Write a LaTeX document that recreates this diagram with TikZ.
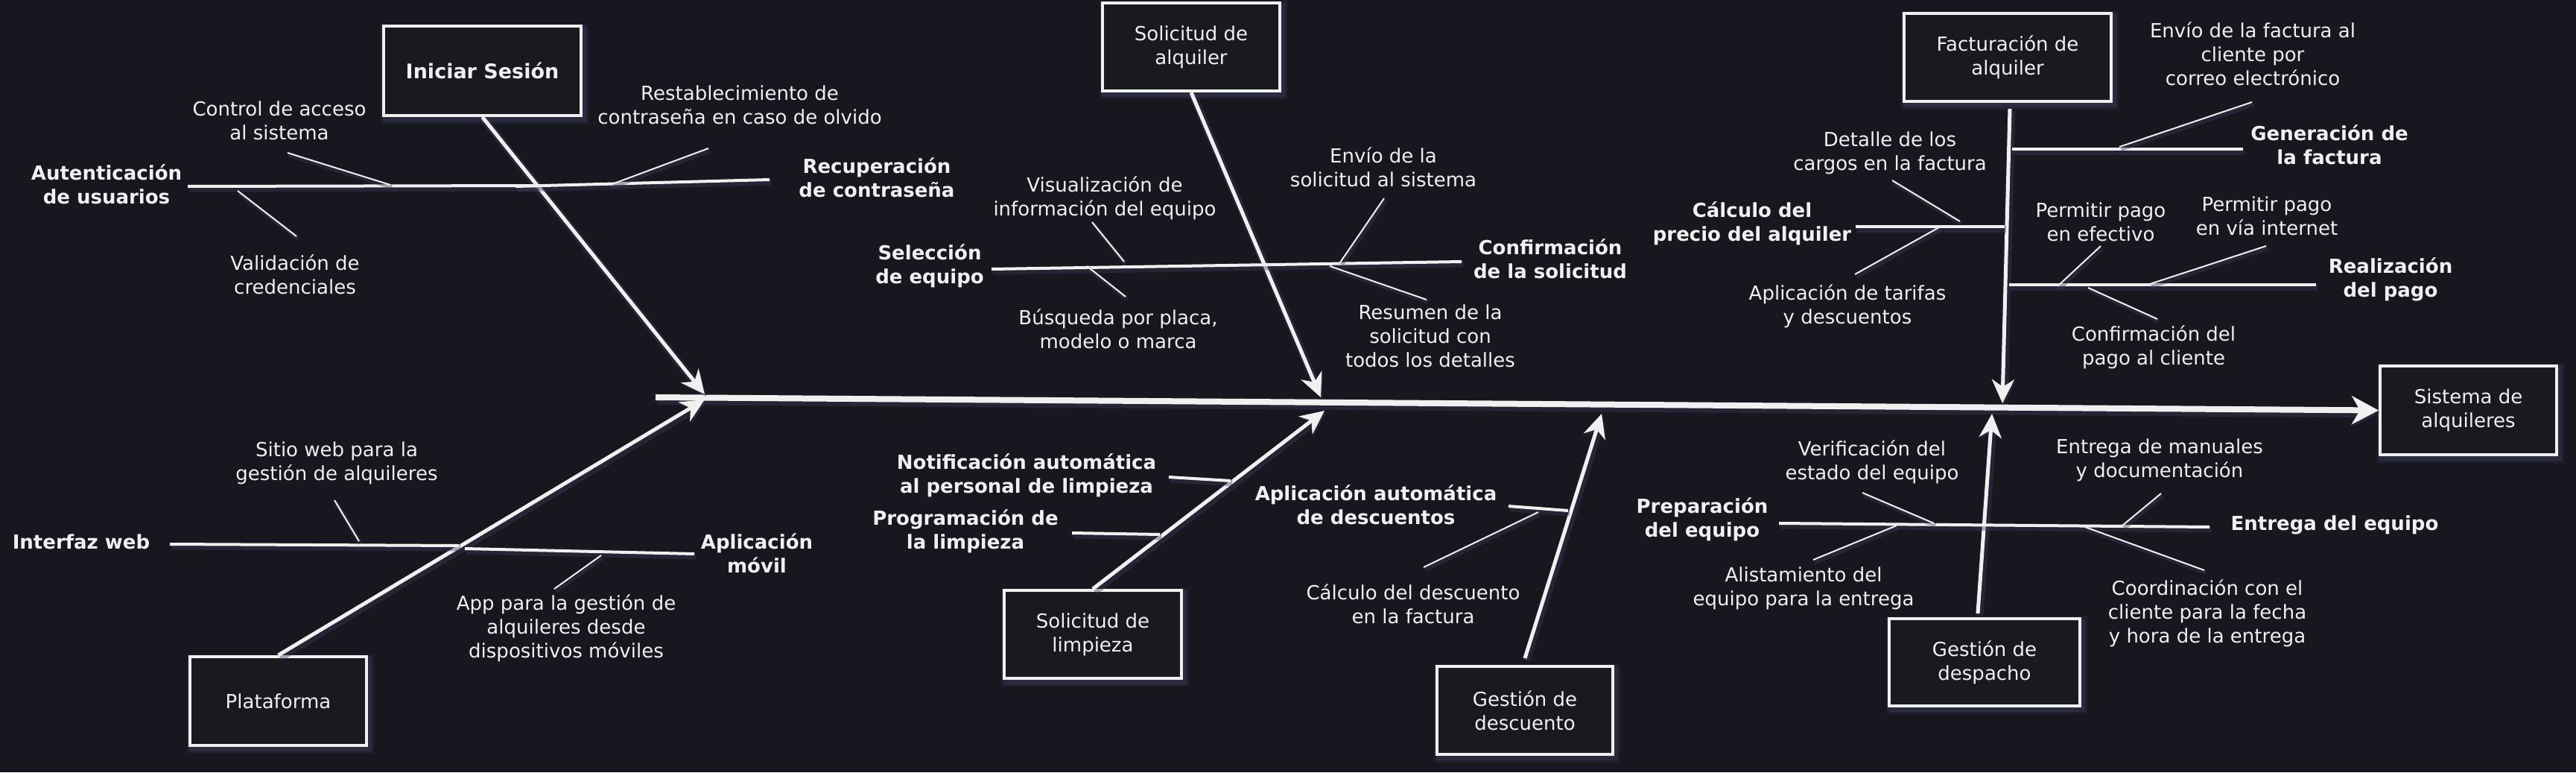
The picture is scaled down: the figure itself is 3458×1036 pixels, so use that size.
\documentclass[tikz,border=0pt]{standalone}
\usepackage{fontspec}
\setmainfont{DejaVu Sans}
\usetikzlibrary{arrows.meta}
\definecolor{bg}{HTML}{18171F}
\definecolor{boxbg}{HTML}{1A1920}
\definecolor{fg}{HTML}{F0F0F0}
\definecolor{glowc}{HTML}{3A3A58}
\tikzset{
  txt/.style={text=fg, align=center, inner sep=0pt, font=\fontsize{26}{32}\selectfont},
  btxt/.style={txt, font=\fontsize{26}{32}\selectfont\bfseries},
  boxglow/.style={preaction={draw=glowc, line width=14pt, draw opacity=0.25, transform canvas={shift={(3pt,-4pt)}}},
                  preaction={draw=glowc, line width=8pt, draw opacity=0.45, transform canvas={shift={(3pt,-4pt)}}}},
  box/.style={boxglow, draw=fg, line width=4pt, fill=boxbg, text=fg, align=center, inner sep=0pt, font=\fontsize{26}{32}\selectfont},
  lineglow/.style={preaction={draw=glowc, line width=#1, draw opacity=0.4, transform canvas={shift={(2pt,-3pt)}}}},
  spineline/.style={lineglow=14pt, draw=fg, line width=8pt, -{Stealth[length=36pt,width=38pt,inset=11pt]}},
  mainarrow/.style={lineglow=11pt, draw=fg, line width=5pt, -{Stealth[length=32pt,width=30pt,inset=10pt]}},
  branch/.style={lineglow=9pt, draw=fg, line width=4pt},
  leader/.style={lineglow=6pt, draw=fg, line width=2pt}
}
\begin{document}
\begin{tikzpicture}[x=1pt,y=-1pt]
\fill[bg] (0,0) rectangle (3458,1036);
\useasboundingbox (0,0) rectangle (3458,1036);

% category boxes
\node[box, minimum width=265pt, minimum height=120pt, font=\fontsize{27}{32}\selectfont\bfseries] (is) at (647.5,95) {Iniciar Sesión};
\node[box, minimum width=238pt, minimum height=118pt] (sa) at (1599,63) {Solicitud de\\alquiler};
\node[box, minimum width=278pt, minimum height=118pt] (fa) at (2695,77) {Facturación de\\alquiler};
\node[box, minimum width=237pt, minimum height=119pt] (sis) at (3313.5,550.5) {Sistema de\\alquileres};
\node[box, minimum width=237pt, minimum height=119pt] (pl) at (373.5,940.5) {Plataforma};
\node[box, minimum width=238pt, minimum height=118pt] (sl) at (1467,851) {Solicitud de\\limpieza};
\node[box, minimum width=236pt, minimum height=118pt] (gd) at (2047,953) {Gestión de\\descuento};
\node[box, minimum width=256pt, minimum height=117pt] (gp) at (2664,888.5) {Gestión de\\despacho};

% spine
\coordinate (sp0) at (880,533);
\draw[spineline] (sp0) -- (sis.west);

% main arrows
\coordinate (t1) at (946,529);
\coordinate (t2) at (1773,533);
\coordinate (t3) at (2688,541);
\coordinate (t4) at (946,536);
\coordinate (t5) at (1778,551);
\coordinate (t6) at (2150,555);
\coordinate (t7) at (2674,555);
\draw[mainarrow] (is.south) -- (t1);
\draw[mainarrow] (sa.south) -- (t2);
\draw[mainarrow] ([xshift=3pt,yshift=-8pt]fa.south) -- (t3);
\draw[mainarrow] (pl.north) -- (t4);
\draw[mainarrow] (sl.north) -- (t5);
\draw[mainarrow] ([yshift=9pt]gd.north) -- (t6);
\draw[mainarrow] ([xshift=-9pt,yshift=5pt]gp.north) -- (t7);

% ---- Iniciar Sesion group
\node[btxt] (aut) at (143,247) {Autenticación\\de usuarios};
\node[btxt] (rec) at (1177,238) {Recuperación\\de contraseña};
\node[txt] (ctl) at (375,162) {Control de acceso\\al sistema};
\node[txt] (val) at (396,368) {Validación de\\credenciales};
\node[txt] (res) at (993,141) {Restablecimiento de\\contraseña en caso de olvido};
\coordinate (autA) at (252,250); \coordinate (autB) at (722,249);
\coordinate (recA) at (692,250); \coordinate (recB) at (1033,241);
\draw[branch] (autA) -- (autB);
\draw[branch] (recA) -- (recB);
\coordinate (ctlA) at (386,205); \coordinate (ctlB) at (524,248);
\coordinate (valA) at (319,256); \coordinate (valB) at (398,317);
\coordinate (resA) at (951,199); \coordinate (resB) at (819,248);
\draw[leader] (ctlA) -- (ctlB);
\draw[leader] (valA) -- (valB);
\draw[leader] (resA) -- (resB);

% ---- Solicitud de alquiler group
\node[btxt] (sel) at (1248,357) {Selección\\de equipo};
\node[btxt] (conf) at (2081,347) {Confirmación\\de la solicitud};
\node[txt] (vis) at (1483,266) {Visualización de\\información del equipo};
\node[txt] (bus) at (1501,441) {Búsqueda por placa,\\modelo o marca};
\node[txt] (env) at (1857,224) {Envío de la\\solicitud al sistema};
\node[txt] (resu) at (1920,451) {Resumen de la\\solicitud con\\todos los detalles};
\coordinate (selA) at (1331,361); \coordinate (selB) at (1962,351);
\draw[branch] (selA) -- (selB);
\coordinate (visA) at (1466,298); \coordinate (visB) at (1509,351);
\coordinate (busA) at (1511,398); \coordinate (busB) at (1459,357);
\coordinate (envA) at (1858,266); \coordinate (envB) at (1799,352);
\coordinate (resuA) at (1915,402); \coordinate (resuB) at (1785,357);
\draw[leader] (visA) -- (visB);
\draw[leader] (busA) -- (busB);
\draw[leader] (envA) -- (envB);
\draw[leader] (resuA) -- (resuB);

% ---- Facturacion group
\node[btxt] (gen) at (3127,194) {Generación de\\la factura};
\node[txt] (envf) at (3024,72) {Envío de la factura al\\cliente por\\correo electrónico};
\node[btxt] (calc) at (2352,300) {Cálculo del\\precio del alquiler};
\node[txt] (det) at (2537,205) {Detalle de los\\cargos en la factura};
\node[txt] (tar) at (2480,411) {Aplicación de tarifas\\y descuentos};
\node[btxt] (real) at (3209,375) {Realización\\del pago};
\node[txt] (efe) at (2820,298) {Permitir pago\\en efectivo};
\node[txt] (inet) at (3043,290) {Permitir pago\\en vía internet};
\node[txt] (cpag) at (2891,466) {Confirmación del\\pago al cliente};
\coordinate (genA) at (2701,200); \coordinate (genB) at (3011,200);
\coordinate (calcA) at (2491,304); \coordinate (calcB) at (2691,304);
\coordinate (realA) at (2697,382); \coordinate (realB) at (3109,382);
\draw[branch] (genA) -- (genB);
\draw[branch] (calcA) -- (calcB);
\draw[branch] (realA) -- (realB);
\coordinate (envfA) at (3023,137); \coordinate (envfB) at (2845,197);
\coordinate (detA) at (2540,242); \coordinate (detB) at (2631,297);
\coordinate (tarA) at (2490,368); \coordinate (tarB) at (2603,305);
\coordinate (efeA) at (2820,330); \coordinate (efeB) at (2762,384);
\coordinate (inetA) at (3042,330); \coordinate (inetB) at (2886,381);
\coordinate (cpagA) at (2896,428); \coordinate (cpagB) at (2803,386);
\draw[leader] (envfA) -- (envfB);
\draw[leader] (detA) -- (detB);
\draw[leader] (tarA) -- (tarB);
\draw[leader] (efeA) -- (efeB);
\draw[leader] (inetA) -- (inetB);
\draw[leader] (cpagA) -- (cpagB);

% ---- Plataforma group
\node[btxt] (iw) at (109,727) {Interfaz web};
\node[btxt] (am) at (1016,742) {Aplicación\\móvil};
\node[txt] (sw) at (452,621) {Sitio web para la\\gestión de alquileres};
\node[txt] (app) at (760,843) {App para la gestión de\\alquileres desde\\dispositivos móviles};
\coordinate (iwA) at (228,730); \coordinate (iwB) at (616,732);
\coordinate (amA) at (624,736); \coordinate (amB) at (932,743);
\draw[branch] (iwA) -- (iwB);
\draw[branch] (amA) -- (amB);
\coordinate (swA) at (449,671); \coordinate (swB) at (482,726);
\coordinate (appA) at (744,790); \coordinate (appB) at (807,745);
\draw[leader] (swA) -- (swB);
\draw[leader] (appA) -- (appB);

% ---- Solicitud de limpieza group
\node[btxt] (noti) at (1378,638) {Notificación automática\\al personal de limpieza};
\node[btxt] (prog) at (1296,713) {Programación de\\la limpieza};
\coordinate (notiA) at (1569,640); \coordinate (notiB) at (1652,645);
\coordinate (progA) at (1439,715); \coordinate (progB) at (1557,717);
\draw[branch] (notiA) -- (notiB);
\draw[branch] (progA) -- (progB);

% ---- Gestion de descuento group
\node[btxt] (aad) at (1847,677) {Aplicación automática\\de descuentos};
\node[txt] (cdes) at (1897,810) {Cálculo del descuento\\en la factura};
\coordinate (aadA) at (2025,679); \coordinate (aadB) at (2105,685);
\draw[branch] (aadA) -- (aadB);
\coordinate (cdesA) at (1911,761); \coordinate (cdesB) at (2065,687);
\draw[leader] (cdesA) -- (cdesB);

% ---- Gestion de despacho group
\node[btxt] (prep) at (2285,697) {Preparación\\del equipo};
\node[btxt] (ent) at (3134,704) {Entrega del equipo};
\node[txt] (ver) at (2513,620) {Verificación del\\estado del equipo};
\node[txt] (ali) at (2421,789) {Alistamiento del\\equipo para la entrega};
\node[txt] (man) at (2899,617) {Entrega de manuales\\y documentación};
\node[txt] (coor) at (2963,823) {Coordinación con el\\cliente para la fecha\\y hora de la entrega};
\coordinate (prepA) at (2388,702); \coordinate (prepB) at (2966,707);
\draw[branch] (prepA) -- (prepB);
\coordinate (verA) at (2500,661); \coordinate (verB) at (2596,702);
\coordinate (aliA) at (2434,751); \coordinate (aliB) at (2546,705);
\coordinate (manA) at (2901,662); \coordinate (manB) at (2849,705);
\coordinate (coorA) at (2959,765); \coordinate (coorB) at (2799,707);
\draw[leader] (verA) -- (verB);
\draw[leader] (aliA) -- (aliB);
\draw[leader] (manA) -- (manB);
\draw[leader] (coorA) -- (coorB);
\end{tikzpicture}
\end{document}
